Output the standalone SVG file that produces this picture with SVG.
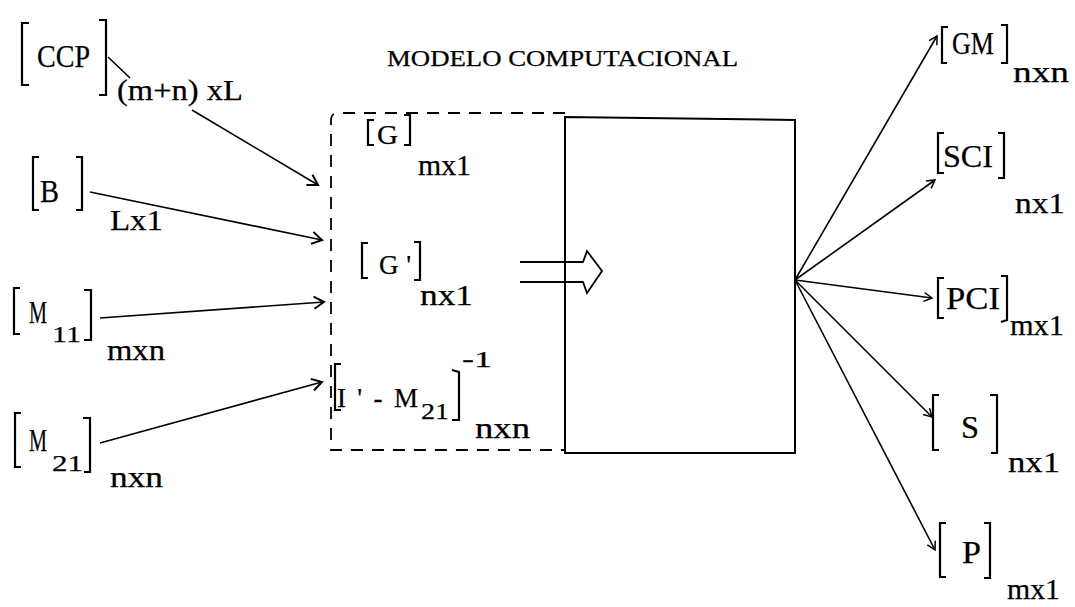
<svg xmlns="http://www.w3.org/2000/svg" width="1075" height="607" viewBox="0 0 1075 607">
<defs>
<style>
text{font-family:"Liberation Serif","DejaVu Serif",serif;fill:#000;stroke:#000;stroke-width:0.25}
.m{font-size:32px}
.s{font-size:29px}
.ss{font-size:24px}
.i{font-size:27px}
.br{fill:none;stroke:#000;stroke-width:2.2}
.ln{fill:none;stroke:#000;stroke-width:1.6}
.dash{fill:none;stroke:#000;stroke-width:1.8;stroke-dasharray:12 9}
</style>
<marker id="ah" markerWidth="14" markerHeight="14" refX="12" refY="7" orient="auto" markerUnits="userSpaceOnUse">
<path d="M2,1 L12,7 L2,13" fill="none" stroke="#000" stroke-width="2"/>
</marker>
<marker id="ah2" markerWidth="12" markerHeight="12" refX="10" refY="6" orient="auto" markerUnits="userSpaceOnUse">
<path d="M2,1.5 L10,6 L2,10.5" fill="none" stroke="#000" stroke-width="1.5"/>
</marker>
</defs>
<rect width="1075" height="607" fill="#fff"/>

<text x="387" y="66" textLength="351" lengthAdjust="spacingAndGlyphs" style="font-size:23px">MODELO COMPUTACIONAL</text>

<g id="model">
<path class="dash" d="M565,113 L338,113 Q331,113 331,120 L331,450 L565,450"/>
<path class="ln" style="stroke-width:2" d="M565,117 L795,120 L795,453 L565,453 Z"/>
<path class="ln" style="stroke-width:1.8" d="M520,262 L583,262 L587,251 L602,271 L587,293 L583,282 L520,282"/>
</g>

<g id="G">
<path class="br" d="M374,120 L368,120 L368,145 L374,145"/>
<path class="br" d="M404,115 L410,115 L410,145 L404,145"/>
<text class="i" x="377" y="144" textLength="21" lengthAdjust="spacingAndGlyphs">G</text>
<text class="s" x="418" y="175" textLength="53" lengthAdjust="spacingAndGlyphs">mx1</text>
</g>
<g id="Gp">
<path class="br" d="M368,243 L362,243 L362,278 L368,278"/>
<path class="br" d="M414,242 L420,242 L420,280 L414,280"/>
<text class="i" x="379" y="274" textLength="32" lengthAdjust="spacing">G'</text>
<text class="s" x="420" y="305" textLength="53" lengthAdjust="spacingAndGlyphs">nx1</text>
</g>
<g id="IM">
<path class="br" d="M341,364 L335,364 L335,410 L341,410"/>
<path class="br" d="M452,370 L459,372 L459,420 L452,420"/>
<text class="i" x="337" y="407" textLength="81" lengthAdjust="spacing">I'-M</text>
<text class="ss" x="421" y="419" textLength="28" lengthAdjust="spacingAndGlyphs">21</text>
<text class="ss" x="462" y="367" textLength="30" lengthAdjust="spacingAndGlyphs">-1</text>
<text class="s" x="475" y="438" textLength="55" lengthAdjust="spacingAndGlyphs">nxn</text>
</g>

<g id="CCP">
<path class="br" d="M29,23 L22,23 L22,85 L29,85"/>
<path class="br" d="M99,20 L106,20 L106,95 L99,95"/>
<text class="m" x="37" y="67" textLength="53" lengthAdjust="spacingAndGlyphs">CCP</text>
<text class="s" x="117" y="100" textLength="126" lengthAdjust="spacingAndGlyphs">(m+n) xL</text>
</g>
<g id="B">
<path class="br" d="M39,157 L33,157 L33,210 L39,210"/>
<path class="br" d="M76,157 L82,157 L82,210 L76,210"/>
<text class="m" x="40" y="202" textLength="19" lengthAdjust="spacingAndGlyphs">B</text>
<text class="s" x="110" y="230" textLength="53" lengthAdjust="spacingAndGlyphs">Lx1</text>
</g>
<g id="M11">
<path class="br" d="M20,288 L14,288 L14,334 L20,334"/>
<path class="br" d="M84,290 L91,290 L91,340 L84,340"/>
<text class="m" x="29" y="323" textLength="18" lengthAdjust="spacingAndGlyphs">M</text>
<text class="ss" x="52" y="342" textLength="29" lengthAdjust="spacingAndGlyphs">11</text>
<text class="s" x="107" y="360" textLength="58" lengthAdjust="spacingAndGlyphs">mxn</text>
</g>
<g id="M21">
<path class="br" d="M21,413 L15,413 L15,467 L21,467"/>
<path class="br" d="M83,418 L90,418 L90,472 L84,472"/>
<text class="m" x="29" y="451" textLength="18" lengthAdjust="spacingAndGlyphs">M</text>
<text class="ss" x="52" y="471" textLength="31" lengthAdjust="spacingAndGlyphs">21</text>
<text class="s" x="110" y="487" textLength="53" lengthAdjust="spacingAndGlyphs">nxn</text>
</g>

<g id="GM">
<path class="br" d="M948,27 L942,27 L942,63 L947,63"/>
<path class="br" d="M1001,25 L1007,25 L1007,63 L1001,63"/>
<text class="m" x="952" y="54" textLength="42" lengthAdjust="spacingAndGlyphs">GM</text>
<text class="s" x="1013" y="82" textLength="56" lengthAdjust="spacingAndGlyphs">nxn</text>
</g>
<g id="SCI">
<path class="br" d="M944,133 L938,133 L938,173 L944,173"/>
<path class="br" d="M998,133 L1004,133 L1004,178 L998,178"/>
<text class="m" x="943" y="167" textLength="50" lengthAdjust="spacingAndGlyphs">SCI</text>
<text class="s" x="1015" y="213" textLength="50" lengthAdjust="spacingAndGlyphs">nx1</text>
</g>
<g id="PCI">
<path class="br" d="M944,278 L938,278 L938,318 L944,318"/>
<path class="br" d="M1001,276 L1007,276 L1007,320 L1001,322"/>
<text class="m" x="946" y="309" textLength="54" lengthAdjust="spacingAndGlyphs">PCI</text>
<text class="s" x="1010" y="335" textLength="54" lengthAdjust="spacingAndGlyphs">mx1</text>
</g>
<g id="S">
<path class="br" d="M939,395 L933,395 L933,450 L939,450"/>
<path class="br" d="M990,395 L997,395 L997,453 L991,453"/>
<text class="m" x="961" y="438" textLength="18" lengthAdjust="spacingAndGlyphs">S</text>
<text class="s" x="1008" y="472" textLength="52" lengthAdjust="spacingAndGlyphs">nx1</text>
</g>
<g id="P">
<path class="br" d="M946,523 L940,523 L940,577 L946,577"/>
<path class="br" d="M984,523 L990,523 L990,578 L984,578"/>
<text class="m" x="962" y="563" textLength="19" lengthAdjust="spacingAndGlyphs">P</text>
<text class="s" x="1007" y="599" textLength="53" lengthAdjust="spacingAndGlyphs">mx1</text>
</g>

<g id="connectors">
<path class="ln" d="M108,57 L130,78"/>
<path class="ln" marker-end="url(#ah)" d="M192,110 L318,185"/>
<path class="ln" marker-end="url(#ah)" d="M90,192 L322,240"/>
<path class="ln" marker-end="url(#ah)" d="M100,318 L324,302"/>
<path class="ln" marker-end="url(#ah)" d="M100,443 L322,382"/>
<path class="ln" marker-end="url(#ah2)" d="M795,280 L937,36"/>
<path class="ln" marker-end="url(#ah2)" d="M795,280 L935,180"/>
<path class="ln" marker-end="url(#ah2)" d="M795,280 L932,298"/>
<path class="ln" marker-end="url(#ah2)" d="M795,280 L932,417"/>
<path class="ln" marker-end="url(#ah2)" d="M795,280 L935,550"/>
</g>
</svg>
